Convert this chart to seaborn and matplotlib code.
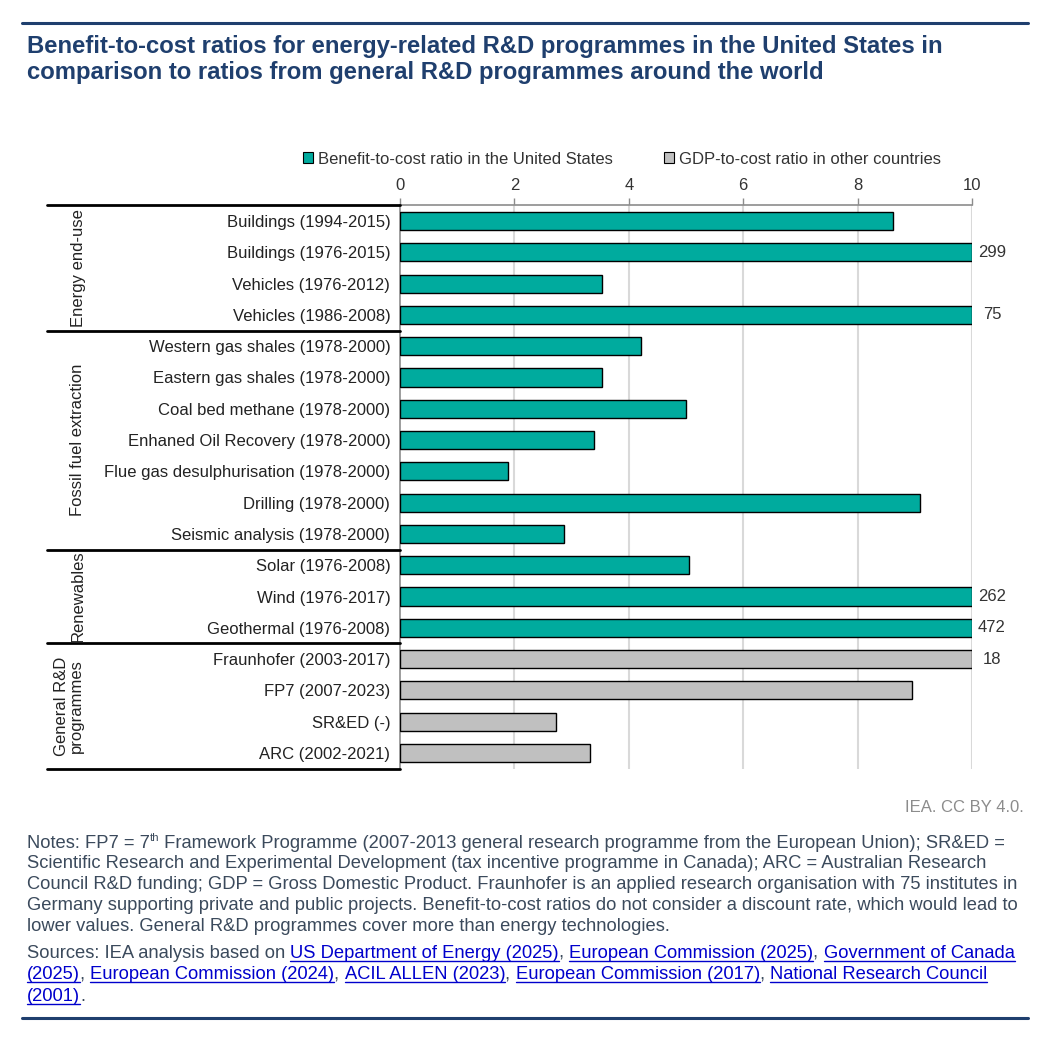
import numpy as np
import pandas as pd
import matplotlib
matplotlib.use("Agg")
import matplotlib.pyplot as plt
from matplotlib.patches import Patch
from matplotlib.lines import Line2D
import seaborn as sns

# Data
programmes = [
    "Buildings (1994-2015)", "Buildings (1976-2015)", "Vehicles (1976-2012)",
    "Vehicles (1986-2008)", "Western gas shales (1978-2000)",
    "Eastern gas shales (1978-2000)", "Coal bed methane (1978-2000)",
    "Enhaned Oil Recovery (1978-2000)", "Flue gas desulphurisation (1978-2000)",
    "Drilling (1978-2000)", "Seismic analysis (1978-2000)",
    "Solar (1976-2008)", "Wind (1976-2017)", "Geothermal (1976-2008)",
    "Fraunhofer (2003-2017)", "FP7 (2007-2023)", "SR&ED (-)", "ARC (2002-2021)",
]
ratios = [8.62, 299, 3.54, 75, 4.21, 3.53, 5.0, 3.40, 1.88, 9.09, 2.87,
          5.05, 262, 472, 18, 8.95, 2.73, 3.32]
series = ["Benefit-to-cost ratio in the United States"] * 14 + \
         ["GDP-to-cost ratio in other countries"] * 4
groups = ["Energy end-use", "Fossil fuel extraction", "Renewables",
          "General R&D\nprogrammes"]
group_sizes = [4, 7, 3, 4]
x_ticks = [0, 2, 4, 6, 8, 10]

AXIS_MAX = 10
TEAL = "#00AB9E"
GREY = "#C0C0C0"
NAVY = "#1F3F6E"
NOTE = "#3B4A5C"
LINK = "#0000CC"

W, H = 1051, 1038
FONT = "Liberation Sans"

sns.set_theme(style="white")
plt.rcParams["font.family"] = [FONT, "DejaVu Sans"]

df = pd.DataFrame({"programme": programmes, "ratio": ratios, "series": series})
df["shown"] = np.minimum(df["ratio"], AXIS_MAX)

fig = plt.figure(figsize=(W / 100, H / 100), dpi=100)
ax = fig.add_axes([400 / W, 1 - 768.6 / H, 572 / W, (768.6 - 205.4) / H])

sns.barplot(data=df, y="programme", x="shown", hue="series",
            palette={series[0]: TEAL, series[-1]: GREY}, dodge=False,
            orient="h", width=0.58, edgecolor="black", linewidth=1,
            saturation=1, legend=False, ax=ax, zorder=3)

ax.set_xlim(0, AXIS_MAX)
ax.set_ylim(len(programmes) - 0.5, -0.5)
ax.set_xticks(x_ticks)
ax.xaxis.tick_top()
ax.tick_params(axis="x", which="both", top=True, bottom=False, length=5,
               width=1, color="#8C8C8C", labelsize=12, labelcolor="#333333",
               pad=4)
ax.tick_params(axis="y", length=0, labelsize=12, labelcolor="#222222", pad=7)
ax.set_xlabel("")
ax.set_ylabel("")
for s in ["right", "bottom"]:
    ax.spines[s].set_visible(False)
for s in ["top", "left"]:
    ax.spines[s].set_color("#8C8C8C")
    ax.spines[s].set_linewidth(1.2)
for t in x_ticks[1:]:
    ax.axvline(t, color="#D9D9D9", lw=1.5, zorder=1)

# values beyond the axis
for i, v in enumerate(ratios):
    if v > AXIS_MAX:
        ax.text(AXIS_MAX + 0.35, i, f"{v:g}", va="center", ha="center",
                fontsize=12, color="#333333")

# group brackets
bounds = np.cumsum([0] + group_sizes)
x0 = 47 / W
xa = 400 / W
for b in bounds:
    yf = 1 - (205.4 + b * 31.29) / H
    fig.add_artist(Line2D([x0, xa], [yf, yf], color="black", lw=2))
for g, a, b in zip(groups, bounds[:-1], bounds[1:]):
    yc = 1 - (205.4 + (a + b) / 2 * 31.29) / H
    fig.text(78 / W if "\n" not in g else 69 / W, yc, g, rotation=90,
             ha="center", va="center", fontsize=12, color="#222222",
             linespacing=1.0)

# legend
handles = [Patch(facecolor=TEAL, edgecolor="black", lw=0.8),
           Patch(facecolor=GREY, edgecolor="black", lw=0.8)]
fig.legend(handles, [series[0], series[-1]], loc="center",
           bbox_to_anchor=(622 / W, 1 - 159 / H), ncol=2, frameon=False,
           fontsize=12, handlelength=0.6, handleheight=0.6, handletextpad=0.3,
           columnspacing=3.1, labelcolor="#333333")

# title and rules
fig.add_artist(Line2D([22 / W, 1028 / W], [1 - 22.5 / H] * 2, color=NAVY, lw=2.2))
fig.add_artist(Line2D([22 / W, 1028 / W], [1 - 1018 / H] * 2, color=NAVY, lw=2.2))
fig.text(27 / W, 1 - 46 / H, "Benefit-to-cost ratios for energy-related R&D programmes in the United States in",
         fontsize=17.2, fontweight="bold", color=NAVY, va="center")
fig.text(27 / W, 1 - 73 / H, "comparison to ratios from general R&D programmes around the world",
         fontsize=17.2, fontweight="bold", color=NAVY, va="center")
fig.text(1024 / W, 1 - 807 / H, "IEA. CC BY 4.0.", fontsize=12,
         color="#8C8C8C", ha="right", va="center")

renderer = fig.canvas.get_renderer()


def put_runs(x_px, y_px, runs, size=13.2):
    # y_px is the baseline in pixels from the top
    x = x_px
    for text, kind in runs:
        fs = size * 0.62 if kind == "sup" else size
        yy = y_px - 7 if kind == "sup" else y_px
        col = LINK if kind == "link" else NOTE
        t = fig.text(x / W, 1 - yy / H, text, fontsize=fs, color=col,
                     va="baseline", ha="left")
        bb = t.get_window_extent(renderer)
        if kind == "link":
            uy = 1 - (y_px + 2.5) / H
            fig.add_artist(Line2D([x / W, (x + bb.width) / W], [uy, uy],
                                  color=LINK, lw=1))
        x += bb.width


note_lines = [
    [("Notes: FP7 = 7", "n"), ("th", "sup"),
     (" Framework Programme (2007-2013 general research programme from the European Union); SR&ED =", "n")],
    [("Scientific Research and Experimental Development (tax incentive programme in Canada); ARC = Australian Research", "n")],
    [("Council R&D funding; GDP = Gross Domestic Product. Fraunhofer is an applied research organisation with 75 institutes in", "n")],
    [("Germany supporting private and public projects. Benefit-to-cost ratios do not consider a discount rate, which would lead to", "n")],
    [("lower values. General R&D programmes cover more than energy technologies.", "n")],
]
note_y = [843, 863.5, 884, 905, 926]
for y, runs in zip(note_y, note_lines):
    put_runs(27, y + 5, runs)

source_lines = [
    [("Sources: IEA analysis based on ", "n"), ("US Department of Energy (2025)", "link"),
     (", ", "n"), ("European Commission (2025)", "link"), (", ", "n"),
     ("Government of Canada", "link")],
    [("(2025)", "link"), (", ", "n"), ("European Commission (2024)", "link"), (", ", "n"),
     ("ACIL ALLEN (2023)", "link"), (", ", "n"), ("European Commission (2017)", "link"),
     (", ", "n"), ("National Research Council", "link")],
    [("(2001)", "link"), (".", "n")],
]
source_y = [953, 974, 996]
for y, runs in zip(source_y, source_lines):
    put_runs(27, y + 5, runs)

fig.savefig("out.png", dpi=100)
